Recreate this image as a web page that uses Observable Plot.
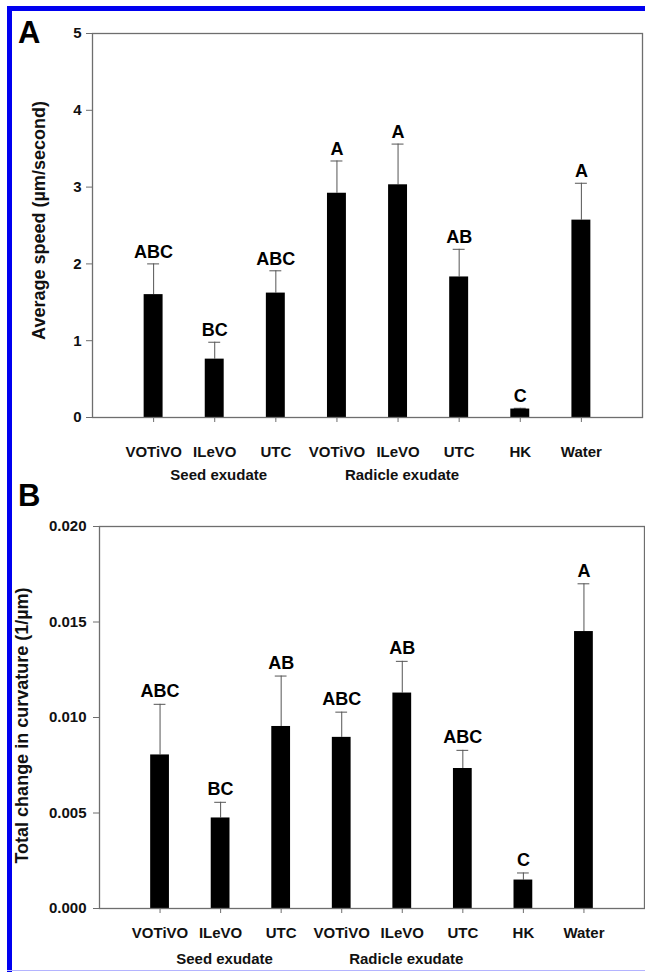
<!DOCTYPE html>
<html>
<head>
<meta charset="utf-8">
<script src="https://cdn.jsdelivr.net/npm/d3@7"></script>
<script src="https://cdn.jsdelivr.net/npm/@observablehq/plot@0.6"></script>
<style>
  html, body { margin: 0; padding: 0; background: #fff; }
  #wrap { position: relative; width: 645px; height: 972px; overflow: hidden; background: #fff;
          font-family: "Liberation Sans", Arial, sans-serif; }
  .abs { position: absolute; }
  .plet { position: absolute; font-weight: bold; font-size: 31px; line-height: 30px; color: #000; }
</style>
</head>
<body>
<div id="wrap">
  <div class="abs" style="left:7px;top:6px;width:5px;height:966px;background:#0000f0"></div>
  <div class="abs" style="left:7px;top:6px;width:638px;height:5px;background:#0000f0"></div>
  <div class="abs" style="left:7px;top:970px;width:638px;height:1px;background:#b4b4ff"></div>
  <div id="pa" class="abs" style="left:0;top:0"></div>
  <div id="pb" class="abs" style="left:0;top:490px"></div>
  <div class="plet" style="left:18px;top:18px">A</div>
  <div class="plet" style="left:18px;top:481px">B</div>
</div>
<script>
// ---- data ----
const categories = ["VOTiVO", "ILeVO", "UTC", "VOTiVO", "ILeVO", "UTC", "HK", "Water"];
const groupLabels = ["Seed exudate", "Radicle exudate"];
const groupCenterIndex = [1, 4];

const speedMean = [1.60, 0.76, 1.62, 2.92, 3.03, 1.83, 0.11, 2.57];
const speedSE   = [0.40, 0.22, 0.29, 0.42, 0.53, 0.36, 0.01, 0.48];
const speedLetters = ["ABC", "BC", "ABC", "A", "A", "AB", "C", "A"];
const speedTicks = [0, 1, 2, 3, 4, 5];

const curvMean = [0.00804, 0.00474, 0.00953, 0.00896, 0.01128, 0.00733, 0.00149, 0.0145];
const curvSE   = [0.00265, 0.00082, 0.00264, 0.00132, 0.00166, 0.00095, 0.00037, 0.0025];
const curvLetters = ["ABC", "BC", "AB", "ABC", "AB", "ABC", "C", "A"];
const curvTicks = [0, 0.005, 0.010, 0.015, 0.020];

const keys = categories.map((c, i) => i + ":" + c);

function panel(o) {
  const data = keys.map((k, i) => ({key: k, v: o.values[i], top: o.values[i] + o.se[i], letter: o.letters[i]}));
  const gdata = groupLabels.map((g, j) => ({g, key: keys[groupCenterIndex[j]]}));
  return Plot.plot({
    width: 645,
    height: o.height,
    marginTop: o.mt, marginBottom: o.mb, marginLeft: o.ml, marginRight: o.mr,
    style: {fontFamily: "'Liberation Sans', Arial, sans-serif", fontWeight: "bold", fontSize: "15px",
            color: "#000", background: "transparent", overflow: "visible"},
    x: {type: "band", domain: keys, paddingInner: 0.69, paddingOuter: 0.845, round: false, label: null},
    y: {domain: o.domain, label: null},
    marks: [
      Plot.ruleX(data, {x: "key", y1: "v", y2: "top", stroke: "#555", strokeWidth: 1}),
      Plot.tickY(data, {x: "key", y: "top", stroke: "#555", strokeWidth: 1, insetLeft: 3.5, insetRight: 3.5}),
      Plot.barY(data, {x: "key", y: "v", fill: "#000"}),
      Plot.frame({stroke: "#6e6e6e", strokeWidth: 1.3}),
      Plot.axisY({ticks: o.ticks, tickFormat: o.fmt, tickSize: 6, tickPadding: o.ypad, stroke: "#6e6e6e",
                  fill: "#111", fontSize: 15, label: null}),
      Plot.axisX({tickFormat: k => k.split(":")[1], tickSize: 5, tickPadding: o.xpad, stroke: "#6e6e6e",
                  fill: "#111", fontSize: 15, label: null}),
      Plot.text(data, {x: "key", y: "top", text: "letter", dy: o.letterDy, fontSize: 18, fontWeight: "bold", fill: "#000"}),
      Plot.text(gdata, {x: "key", text: "g", frameAnchor: "bottom", dy: o.groupDy, dx: 4, fontSize: 15, fill: "#111"}),
      Plot.text([o.title], {frameAnchor: "left", textAnchor: "middle", dx: o.titleDx, dy: o.titleDy, rotate: -90,
                            fontSize: 18, fontWeight: "bold", fill: "#111"})
    ]
  });
}

document.getElementById("pa").appendChild(panel({
  values: speedMean, se: speedSE, letters: speedLetters,
  domain: [0, 5], ticks: speedTicks, fmt: d3.format("d"),
  height: 490, mt: 33, mb: 73, ml: 92, mr: 3,
  ypad: 5, xpad: 24, letterDy: -12, groupDy: 62,
  title: "Average speed (µm/second)", titleDx: -53, titleDy: -5
}));

document.getElementById("pb").appendChild(panel({
  values: curvMean, se: curvSE, letters: curvLetters,
  domain: [0, 0.02], ticks: curvTicks, fmt: d3.format(".3f"),
  height: 482, mt: 36, mb: 64, ml: 99, mr: 1,
  ypad: 7, xpad: 14, letterDy: -13, groupDy: 55,
  title: "Total change in curvature (1/µm)", titleDx: -77, titleDy: 8
}));
</script>
</body>
</html>
